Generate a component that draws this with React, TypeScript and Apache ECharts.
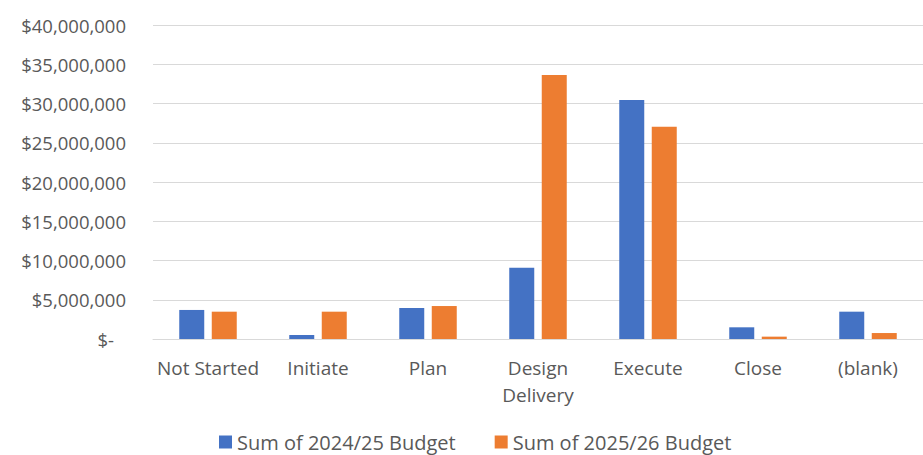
import React, { useEffect, useRef } from "react";
import * as echarts from "echarts";

const categories = ["Not Started", "Initiate", "Plan", "Design\nDelivery", "Execute", "Close", "(blank)"];
const budget2425 = [3700000, 510000, 3950000, 9080000, 30450000, 1490000, 3480000];
const budget2526 = [3480000, 3480000, 4200000, 33630000, 27050000, 300000, 760000];
const seriesNames = ["Sum of 2024/25 Budget", "Sum of 2025/26 Budget"];
const yMax = 40000000;
const yInterval = 5000000;

const FONT = "'Open Sans', 'Noto Sans', sans-serif";
const TEXT = "#595959";

export default function App() {
  const ref = useRef<HTMLDivElement>(null);
  useEffect(() => {
    document.body.style.margin = "0";
    if (!ref.current) return;
    const chart = echarts.init(ref.current, undefined, { renderer: "svg" });
    chart.setOption({
      animation: false,
      backgroundColor: "#ffffff",
      textStyle: { fontFamily: FONT },
      grid: { left: 153, top: 25, width: 781, height: 314, containLabel: false },
      legend: {
        data: seriesNames,
        left: 219,
        top: 431,
        icon: "rect",
        itemWidth: 13,
        itemHeight: 13,
        itemGap: 39,
        padding: 0,
        textStyle: { color: TEXT, fontSize: 20, fontFamily: FONT, lineHeight: 22 },
      },
      xAxis: {
        type: "category",
        data: categories,
        axisLine: { show: true, lineStyle: { color: "#D9D9D9", width: 1 } },
        axisTick: { show: false },
        axisLabel: {
          color: TEXT,
          fontSize: 19,
          fontFamily: FONT,
          margin: 15,
          lineHeight: 27,
          interval: 0,
        },
      },
      yAxis: {
        type: "value",
        min: 0,
        max: yMax,
        interval: yInterval,
        axisLine: { show: false },
        axisTick: { show: false },
        splitLine: { lineStyle: { color: "#D9D9D9", width: 1 } },
        axisLabel: {
          color: TEXT,
          fontSize: 18.5,
          fontFamily: FONT,
          margin: 27,
          formatter: (v: number) =>
            v === 0 ? "{z|$-}" : "$" + v.toLocaleString("en-US"),
          rich: {
            z: { color: TEXT, fontSize: 18.5, fontFamily: FONT, padding: [0, 12, 0, 0] },
          },
        },
      },
      series: [
        {
          name: seriesNames[0],
          type: "bar",
          data: budget2425,
          barWidth: 25,
          barGap: "30%",
          itemStyle: { color: "#4472C4" },
        },
        {
          name: seriesNames[1],
          type: "bar",
          data: budget2526,
          barWidth: 25,
          barGap: "30%",
          itemStyle: { color: "#ED7D31" },
        },
      ],
    });
    return () => chart.dispose();
  }, []);
  return <div ref={ref} style={{ width: 923, height: 455 }} />;
}
